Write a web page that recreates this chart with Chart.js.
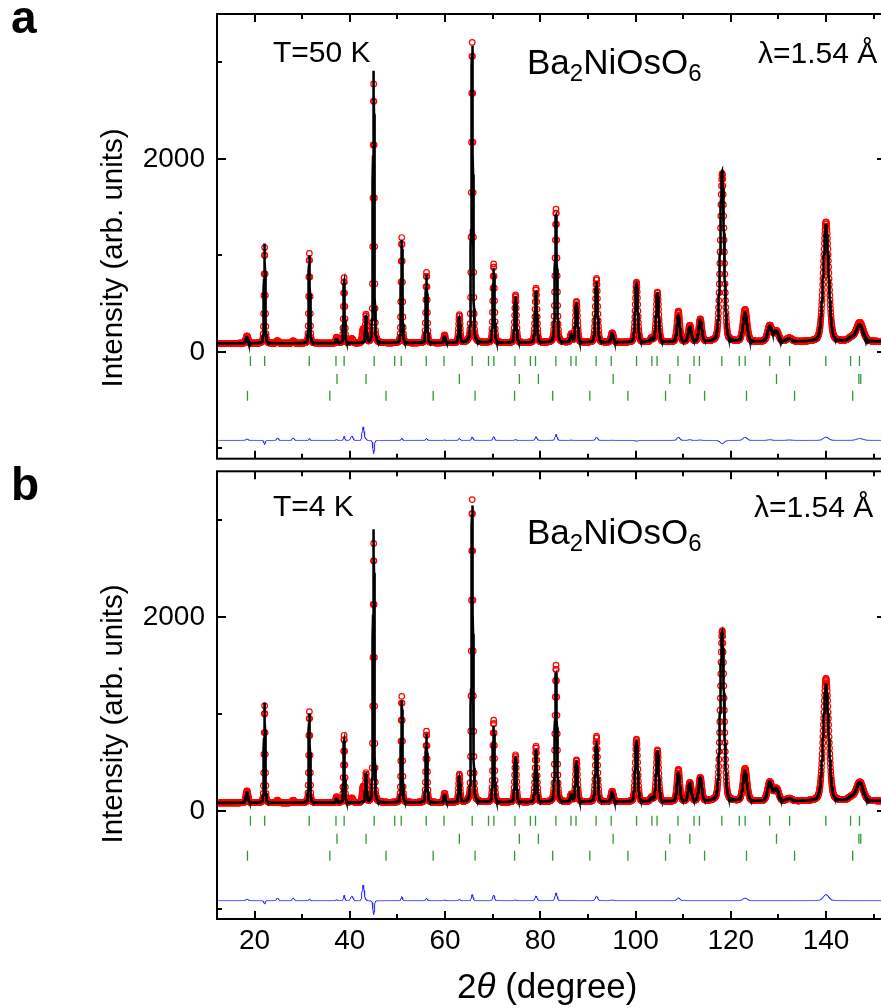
<!DOCTYPE html>
<html>
<head>
<meta charset="utf-8">
<title>Ba2NiOsO6 powder diffraction</title>
<script src="https://cdn.jsdelivr.net/npm/chart.js@4.4.1/dist/chart.umd.min.js"></script>
<style>
  html, body { margin: 0; padding: 0; background: #fff; overflow: hidden; }
  #wrap { position: relative; width: 881px; height: 1008px; overflow: hidden; }
  canvas { position: absolute; left: 0; }
  #chartA { top: 0; }
  #chartB { top: 465px; }
</style>
</head>
<body>
<div id="wrap">
  <canvas id="chartA" width="900" height="465"></canvas>
  <canvas id="chartB" width="900" height="543"></canvas>
</div>
<script>
// ---- axes ----
const xMin = 12.1, xMax = 152.6;
const yMin = -1107, yMax = 3500;
const xMajor = [20, 40, 60, 80, 100, 120, 140];
const xMinor = [30, 50, 70, 90, 110, 130, 150];
const yMajor = [0, 2000];
const yMinor = [-1000, 1000, 3000];

// ---- reflections: position (2theta), width, apex heights ----
const peakPos  = [18.4, 22.1, 31.5, 37.2, 38.8, 43.4, 45.0, 50.9, 56.1, 59.9, 63.0, 65.7, 70.2, 74.8, 79.1, 83.3, 86.5, 87.6, 91.8, 95.1,
                  100.2, 103.4, 104.6, 109.0, 111.4, 113.6, 118.2, 123.0, 128.2, 129.6, 132.3, 140.0, 145.3, 147.1];
const peakFwhm = [0.55, 0.30, 0.31, 0.34, 0.33, 0.35, 0.33, 0.34, 0.36, 0.38, 0.40, 0.40, 0.42, 0.45, 0.48, 0.50, 0.50, 0.52, 0.55, 0.60,
                  0.62, 0.64, 0.65, 0.70, 0.75, 0.75, 0.95, 1.00, 1.10, 1.10, 1.30, 1.35, 1.50, 1.70];
// T = 50 K
const calc50 = [150, 1122, 1000, 140, 727, 365, 2912, 1160, 800, 170, 360, 3170, 870, 580, 620, 1415, 176, 520, 727, 193,
                727, 140, 616, 383, 262, 330, 1879, 400, 262, 210, 135, 1312, 140, 280];
const obs50  = [165, 1080, 1019, 150, 768, 380, 2775, 1184, 823, 175, 382, 3205, 909, 589, 658, 1477, 180, 520, 761, 195,
                720, 140, 616, 417, 270, 335, 1845, 434, 270, 210, 140, 1346, 140, 300];
// T = 4 K
const calc4  = [195, 1122, 1010, 140, 729, 380, 2903, 1141, 800, 180, 365, 3147, 879, 575, 623, 1424, 170, 528, 725, 200,
                742, 140, 630, 401, 292, 344, 1858, 410, 299, 231, 130, 1305, 140, 299];
const obs4   = [211, 1086, 1026, 150, 783, 390, 2757, 1184, 826, 187, 378, 3208, 937, 582, 671, 1503, 172, 528, 773, 207,
                742, 140, 630, 429, 292, 344, 1858, 436, 299, 231, 130, 1367, 140, 299];

// small bumps present only in the measured data
const extraPos  = [24.8, 28.1, 40.4, 42.8];
const extraFwhm = [0.5, 0.5, 0.6, 0.5];
const extra50   = [25, 25, 45, 140];
const extra4    = [25, 25, 45, 160];

// background level
const bgAngle = [12, 40, 80, 120, 153];
const bgLevel = [88, 90, 95, 102, 106];

// Bragg positions: Ba2NiOsO6, NiO, NiO magnetic
const braggMain = [19.12, 22.11, 31.47, 37.09, 38.80, 45.11, 49.42, 50.79, 56.04, 59.77, 65.70, 69.12, 70.25, 74.67, 77.92, 78.99,
                   83.27, 86.44, 87.50, 91.72, 94.89, 100.21, 103.43, 104.52, 108.91, 112.28, 113.42, 118.12, 121.79, 123.02,
                   128.18, 132.36, 139.96, 145.16, 147.03];
const braggNiO  = [37.3, 43.4, 63.0, 75.6, 79.6, 95.3, 107.2, 111.4, 129.6, 146.9, 147.3];
const braggMag  = [18.5, 35.8, 47.6, 57.5, 66.3, 74.6, 82.6, 90.4, 98.4, 106.3, 114.5, 123.3, 133.4, 145.6];
const braggRowY = [-96, -282, -455];
const diffOffset = -918;

const FONT = "'Liberation Sans', Arial, sans-serif";

function bgAt(x) {
  for (let i = 1; i < bgAngle.length; i++) {
    if (x <= bgAngle[i]) {
      const t = (x - bgAngle[i - 1]) / (bgAngle[i] - bgAngle[i - 1]);
      return bgLevel[i - 1] + t * (bgLevel[i] - bgLevel[i - 1]);
    }
  }
  return bgLevel[bgLevel.length - 1];
}

// pseudo-Voigt, unit height
function shape(dx, w) {
  const u = dx / w;
  return 0.75 * Math.exp(-2.7726 * u * u) + 0.25 / (1 + 4 * u * u);
}

function pattern(x, heights, extra) {
  let y = bgAt(x);
  for (let i = 0; i < peakPos.length; i++) {
    const dx = x - peakPos[i];
    if (Math.abs(dx) > 15 * peakFwhm[i]) continue;
    y += (heights[i] - bgAt(peakPos[i])) * shape(dx, peakFwhm[i]);
  }
  if (extra) {
    for (let i = 0; i < extraPos.length; i++) {
      y += extra[i] * Math.exp(-2.7726 * Math.pow((x - extraPos[i]) / extraFwhm[i], 2));
    }
  }
  return y;
}

function braggDataset(list, yv) {
  return {
    data: list.map(v => ({ x: v, y: yv })),
    showLine: false,
    pointStyle: 'line',
    pointRotation: 90,
    pointRadius: 5,
    pointBorderWidth: 1.3,
    pointBorderColor: '#2f9a35'
  };
}

const decor = {
  id: 'decor',
  afterDatasetsDraw(chart, args, o) {
    const { ctx, chartArea: a, scales: { x, y } } = chart;
    ctx.save();
    ctx.strokeStyle = '#000';
    ctx.lineWidth = 2;
    ctx.strokeRect(a.left, a.top, a.right - a.left, a.bottom - a.top);

    ctx.beginPath();
    const xt = (vals, len) => vals.forEach(v => {
      const p = Math.round(x.getPixelForValue(v));
      ctx.moveTo(p, a.bottom); ctx.lineTo(p, a.bottom - len);
      ctx.moveTo(p, a.top); ctx.lineTo(p, a.top + len);
    });
    const yt = (vals, len) => vals.forEach(v => {
      const p = Math.round(y.getPixelForValue(v));
      ctx.moveTo(a.left, p); ctx.lineTo(a.left + len, p);
      ctx.moveTo(a.right, p); ctx.lineTo(a.right - len, p);
    });
    xt(xMajor, 8); xt(xMinor, 5);
    yt(yMajor, 9); yt(yMinor, 5);
    ctx.stroke();

    ctx.fillStyle = '#000';
    ctx.textBaseline = 'alphabetic';
    ctx.textAlign = 'left';

    // panel letter
    ctx.font = 'bold 46px ' + FONT;
    ctx.fillText(o.letter, 11, o.letterY);

    ctx.font = '30px ' + FONT;
    ctx.fillText(o.temp, 273, o.tempY);
    ctx.fillText('\u03bb=1.54 \u00c5', o.lamX, o.lamY);

    // chemical formula with subscripts
    let fx = 527;
    const parts = [['Ba', 0], ['2', 1], ['NiOsO', 0], ['6', 1]];
    parts.forEach(([t, sub]) => {
      ctx.font = (sub ? '24px ' : '35px ') + FONT;
      ctx.fillText(t, fx, o.formY + (sub ? 7 : 0));
      fx += ctx.measureText(t).width;
    });

    // y title
    ctx.save();
    ctx.translate(114, o.yTitleY);
    ctx.rotate(-Math.PI / 2);
    ctx.font = '29.5px ' + FONT;
    ctx.textAlign = 'center';
    ctx.textBaseline = 'middle';
    ctx.fillText('Intensity (arb. units)', 0, 0);
    ctx.restore();

    // x title
    if (o.xTitle) {
      let tx = 457;
      const bits = [['2', ''], ['\u03b8', 'italic '], [' (degree)', '']];
      bits.forEach(([t, st]) => {
        ctx.font = st + '35px ' + FONT;
        ctx.fillText(t, tx, o.xTitleY);
        tx += ctx.measureText(t).width;
      });
    }
    ctx.restore();
  }
};

function buildChart(id, calcH, obsH, extraH, opts, showX, padTop, padBottom) {
  const obsPts = [], diffPts = [], calcPts = [];
  for (let i = 0; ; i++) {
    const xv = Math.round((12.4 + 0.05 * i) * 100) / 100;
    if (xv > 152.6) break;
    const o = pattern(xv, obsH, extraH);
    const c = pattern(xv, calcH, null);
    obsPts.push({ x: xv, y: o });
    diffPts.push({ x: xv, y: o - c + diffOffset });
  }
  const grid = [];
  for (let i = 0; ; i++) {
    const xv = Math.round((12.4 + 0.02 * i) * 100) / 100;
    if (xv > 152.6) break;
    grid.push(xv);
  }
  peakPos.forEach(p => grid.push(p));
  grid.sort((p, q) => p - q);
  grid.forEach(xv => calcPts.push({ x: xv, y: pattern(xv, calcH, null) }));

  return new Chart(document.getElementById(id), {
    type: 'scatter',
    data: {
      datasets: [
        { data: calcPts, showLine: true, borderColor: '#000', borderWidth: 2.6, pointRadius: 0, tension: 0 },
        { data: obsPts, showLine: false, pointRadius: 2.8, pointBorderWidth: 1.2,
          pointBorderColor: '#ff0000', pointBackgroundColor: 'rgba(0,0,0,0)' },
        braggDataset(braggMain, braggRowY[0]),
        braggDataset(braggNiO, braggRowY[1]),
        braggDataset(braggMag, braggRowY[2]),
        { data: diffPts, showLine: true, borderColor: '#2626ff', borderWidth: 1, pointRadius: 0, tension: 0 }
      ]
    },
    options: {
      responsive: false,
      animation: false,
      events: [],
      layout: { padding: { left: 0, right: 14, top: padTop, bottom: padBottom } },
      plugins: { legend: { display: false }, tooltip: { enabled: false }, decor: opts },
      scales: {
        x: {
          type: 'linear', min: xMin, max: xMax, display: showX,
          grid: { display: false, drawTicks: false }, border: { display: false },
          ticks: { padding: 5, color: '#000', font: { family: FONT, size: 28 }, maxRotation: 0, autoSkip: false,
                   callback: v => String(v) },
          afterBuildTicks: s => { s.ticks = xMajor.map(v => ({ value: v })); },
          afterFit: s => { s.height = showX ? 89 : 0; s.paddingLeft = 0; s.paddingRight = 0; }
        },
        y: {
          type: 'linear', min: yMin, max: yMax,
          grid: { display: false, drawTicks: false }, border: { display: false },
          ticks: { padding: 12, color: '#000', font: { family: FONT, size: 28 }, callback: v => String(v) },
          afterBuildTicks: s => { s.ticks = yMajor.map(v => ({ value: v })); },
          afterFit: s => { s.width = 217; s.paddingTop = 0; s.paddingBottom = 0; }
        }
      }
    },
    plugins: [decor]
  });
}

buildChart('chartA', calc50, obs50, extra50,
  { letter: 'a', letterY: 33, temp: 'T=50 K', tempY: 62, lamX: 758, lamY: 63, formY: 73.5, yTitleY: 258, xTitle: false },
  false, 14, 4);

buildChart('chartB', calc4, obs4, extra4,
  { letter: 'b', letterY: 35, temp: 'T=4 K', tempY: 51, lamX: 754, lamY: 52, formY: 78.5, yTitleY: 249, xTitle: true, xTitleY: 533 },
  true, 4, 0);
</script>
</body>
</html>
